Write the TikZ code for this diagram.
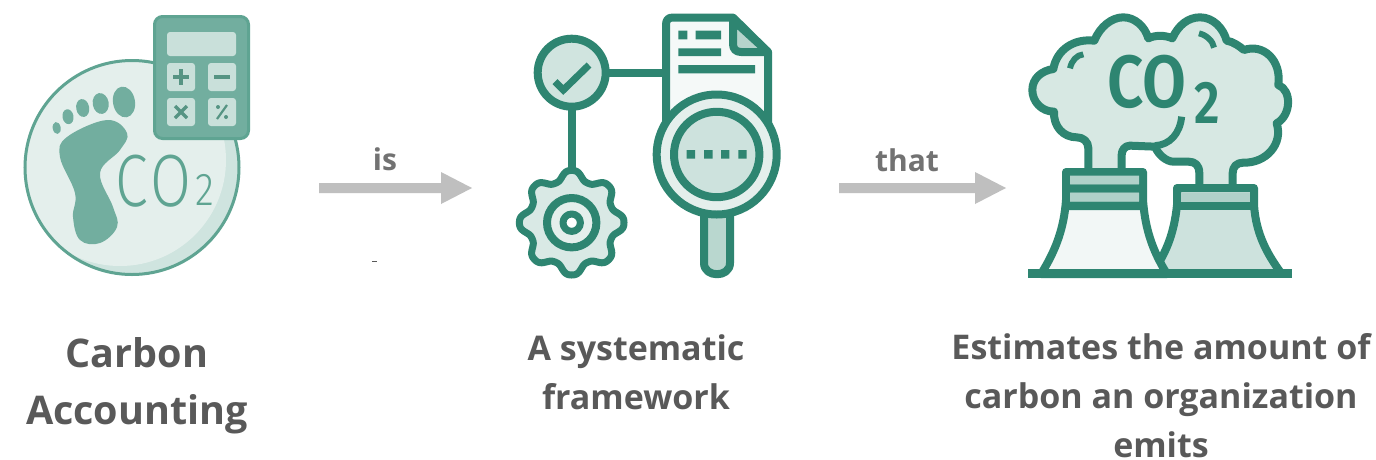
\documentclass[tikz,border=0pt]{standalone}
\usepackage{fontspec}
\setmainfont{Open Sans}[BoldFont={Open Sans Semibold}]
\newfontfamily\labelfont{Open Sans}
\newfontfamily\thinfont{Fira Sans Light}
\newfontfamily\co{Fira Sans SemiBold}
\definecolor{dk}{HTML}{2E8571}
\definecolor{md}{HTML}{5FA492}
\definecolor{calc}{HTML}{72AE9F}
\definecolor{pale}{HTML}{C9E0DA}
\definecolor{txtc}{HTML}{595959}
\definecolor{arw}{HTML}{BFBFBF}
\definecolor{cresc}{HTML}{CFE4DF}
\definecolor{lightdisc}{HTML}{E4EFEC}
\tikzset{
  x=1pt,y=-1pt,
  ink/.style={draw=dk,line width=8pt,line join=round},
  bar/.style={fill=dk,draw=none},
  key/.style={fill=pale,draw=none,rounded corners=3pt},
  keysym/.style={draw=md!90!black,line width=3.5pt},
  cap text/.style={font=\fontsize{39.5pt}{57pt}\selectfont\labelfont\bfseries,text=txtc,align=center,inner sep=0pt},
  cap text small/.style={font=\fontsize{34pt}{49pt}\selectfont\labelfont\bfseries,text=txtc,align=center,inner sep=0pt},
  arrow label/.style={font=\fontsize{30pt}{30pt}\selectfont\labelfont\bfseries,text=txtc!85,inner sep=0pt},
}
\begin{document}
\begin{tikzpicture}
\useasboundingbox (0,0) rectangle (1376,459);
\fill[fill=white] (0,0) rectangle (1376,459);
% ---------- footprint icon
\fill[fill=cresc] (132,167.5) circle[radius=108];
\begin{scope}
\clip (132,167.5) circle[radius=108];
\fill[fill=lightdisc] (120,160) circle[radius=106];
\end{scope}
\draw[draw=md,line width=3pt] (132,167.5) circle[radius=107];
\fill[fill=calc] plot[smooth cycle,tension=0.65] coordinates {(107,120) (127,133) (120,150) (100,173) (113,207) (117,227) (100,243) (80,240) (73,217) (75,193) (60,157) (67,137)};
\foreach \cx/\cy/\rx/\ry in {124/102/11/15.5,100.7/103.5/8/10.5,82.7/108/6.5/9,68/116.7/5.5/7.5,56.7/128/4/6}
  \fill[fill=calc,rotate around={10:(\cx,\cy)}] (\cx,\cy) ellipse[x radius=\rx,y radius=\ry];
\node[font=\fontsize{74pt}{74pt}\selectfont\thinfont,text=md,inner sep=0pt,xscale=0.8] (co1) at (153.5,181) {C\hspace{3pt}O};
\node[font=\fontsize{46pt}{46pt}\selectfont\thinfont,text=md,inner sep=0pt,xscale=0.85] (co1b) at (205,190) {2};
\draw[draw=md,fill=calc,line width=3pt,rounded corners=8pt] (154.5,16.5) rectangle (248.5,138.5);
\fill[key] (167,32) rectangle (236,56);
\fill[key] (167,63) rectangle (195,91);
\fill[key] (208,63) rectangle (236,91);
\fill[key] (167,98) rectangle (195,126);
\fill[key] (208,98) rectangle (236,126);
\draw[keysym] (173,77) -- (189,77) (181,69) -- (181,85);
\draw[keysym] (214,77) -- (230,77);
\draw[keysym] (175,106) -- (187,118) (187,106) -- (175,118);
\draw[draw=md!90!black,line width=2.2pt] (227,105) -- (217,119);
\fill[fill=md!90!black] (218,107) circle[radius=2] (226,117) circle[radius=2];
% ---------- arrows
\fill[fill=arw] (319,183) -- (441,183) -- (441,172) -- (472,188) -- (441,204) -- (441,193) -- (319,193) -- cycle;
\fill[fill=arw] (839,183) -- (975,183) -- (975,172) -- (1006,188) -- (975,204) -- (975,193) -- (839,193) -- cycle;
\node[arrow label] (lis) at (385,159) {is};
\node[arrow label] (lthat) at (907,160) {that};
\fill[fill=txtc] (372,261) rectangle (377,262);
% ---------- framework icon
\draw[ink] (571.7,72.7) -- (666,72.7);
\draw[ink] (571.7,72.7) -- (571.7,175);
\draw[ink,fill=white!70!pale!60!white] (666,125) -- (666,25) .. controls (666,20) and (668,17.5) .. (673,17.5) -- (733,17.5) -- (768,52) -- (768,125) -- cycle;
\draw[ink,fill=pale!75!dk!80!white] (733,20) -- (733,44) .. controls (733,49) and (736,52) .. (741,52) -- (768,52) -- cycle;
\fill[bar] (678.3,30.7) rectangle (687.3,39.3) (695.7,30.7) rectangle (721,39.3) (678.3,48.3) rectangle (721,56) (678.3,65) rectangle (755,73.3);
\draw[ink,fill=white!55!pale!50!dk!40!white] (571.7,72.7) circle[radius=34];
\draw[draw=dk,line width=7pt,line join=miter] (555,81.7) -- (563.3,90) -- (589,65);
\draw[ink,fill=pale!90!dk] (704,210) -- (704,263) .. controls (704,278) and (730,278) .. (730,263) -- (730,210) -- cycle;
\draw[ink,fill=pale!50!white] (716.7,154.5) circle[radius=60];
\draw[ink,fill=pale!92!white] (716.7,154.5) circle[radius=42.7];
\fill[bar] (686.7,150) rectangle (695,158.7) (704,150) rectangle (712.7,158.7) (721,150) rectangle (729.3,158.7) (738.3,150) rectangle (746.7,158.7);
\draw[ink,line width=7pt,fill=pale!70!white] plot[domain=0:360,samples=217,smooth] ({571.7+(47.5+4.8*(cos(8*\x)-0.08*cos(24*\x))/0.92)*sin(\x)},{222.7-(47.5+4.8*(cos(8*\x)-0.08*cos(24*\x))/0.92)*cos(\x)}) -- cycle;
\draw[ink,fill=pale!50!white] (571.7,222.7) circle[radius=24.7];
\draw[ink,line width=7pt,fill=white] (571.7,222.7) circle[radius=8.7];
% ---------- plant icon
\begin{scope}[shift={(1010,0)},x=0.3333pt,y=-0.3333pt]
\path[fill=pale!75!white] (235,510) -- (235,445) .. controls (235,425) and (220,412) .. (200,412)
 .. controls (160,412) and (130,380) .. (132,335)
 .. controls (95,335) and (67,305) .. (67,270)
 .. controls (67,235) and (95,212) .. (130,207)
 .. controls (140,150) and (190,115) .. (253,122)
 .. controls (270,80) and (305,52) .. (340,52)
 .. controls (375,52) and (405,80) .. (415,115)
 .. controls (435,105) and (465,105) .. (487,115)
 .. controls (505,75) and (535,52) .. (570,52)
 .. controls (610,52) and (640,85) .. (650,122)
 .. controls (670,125) and (690,140) .. (702,150)
 .. controls (760,130) and (815,180) .. (805,255)
 .. controls (845,270) and (845,345) .. (800,370)
 .. controls (820,430) and (770,490) .. (700,488)
 .. controls (680,488) and (668,500) .. (668,520)
 -- (668,560) -- (568,560) -- (568,520) .. controls (568,495) and (555,485) .. (535,485) -- (490,485)
 .. controls (470,485) and (445,465) .. (435,440) -- (360,437) .. controls (345,437) and (335,450) .. (335,465) -- (335,510) -- cycle;
\draw[draw=dk,line width=8pt,line join=round] (235,510) -- (235,445) .. controls (235,425) and (220,412) .. (200,412)
 .. controls (160,412) and (130,380) .. (132,335)
 .. controls (95,335) and (67,305) .. (67,270)
 .. controls (67,235) and (95,212) .. (130,207)
 .. controls (140,150) and (190,115) .. (253,122)
 .. controls (270,80) and (305,52) .. (340,52)
 .. controls (375,52) and (405,80) .. (415,115)
 .. controls (435,105) and (465,105) .. (487,115)
 .. controls (505,75) and (535,52) .. (570,52)
 .. controls (610,52) and (640,85) .. (650,122)
 .. controls (670,125) and (690,140) .. (702,150)
 .. controls (760,130) and (815,180) .. (805,255)
 .. controls (845,270) and (845,345) .. (800,370)
 .. controls (820,430) and (770,490) .. (700,488)
 .. controls (680,488) and (668,500) .. (668,520)
 -- (668,560) (568,560) -- (568,520) .. controls (568,495) and (555,485) .. (535,485) -- (490,485)
 .. controls (470,485) and (445,465) .. (435,440) -- (360,437) .. controls (345,437) and (335,450) .. (335,465) -- (335,510);
\draw[draw=dk,line width=7pt] (515,350) .. controls (510,400) and (480,435) .. (435,437);
\draw[draw=dk,line width=6pt] (180,205) .. controls (185,182) and (200,165) .. (220,163);
\draw[draw=dk,line width=6pt] (567,100) .. controls (590,105) and (610,125) .. (612,143);
\node[font=\fontsize{74pt}{74pt}\selectfont\co,text=dk,inner sep=0pt,xscale=0.86] (co2) at (412,246) {CO};
\node[font=\fontsize{60pt}{60pt}\selectfont\co,text=dk,inner sep=0pt,xscale=0.83] (co2b) at (592,310) {2};
\end{scope}
% right tower
\draw[ink,fill=pale!70!dk!50!white] (1177,188) -- (1254,188) -- (1254,205) .. controls (1256,235) and (1268,255) .. (1281,273) -- (1152,273) .. controls (1165,255) and (1174,235) .. (1177,205) -- cycle;
\fill[fill=pale!75!dk!85!white] (1181,192.7) rectangle (1250,201.7);
\fill[bar] (1177,201.7) rectangle (1254,210);
% left tower
\draw[ink,fill=white!75!pale] (1066,172) -- (1143,172) -- (1143,200) .. controls (1145,228) and (1152,250) .. (1167,274) -- (1041,274) .. controls (1056,250) and (1064,228) .. (1066,200) -- cycle;
\fill[fill=pale!75!dk!85!white] (1070,175.7) rectangle (1139,184.3) (1070,192.7) rectangle (1139,201.7);
\fill[bar] (1066,184.3) rectangle (1143,192.7) (1066,201.7) rectangle (1143,210);
\fill[bar] (1028,269.3) rectangle (1291.7,278);
% ---------- captions
\node[cap text] (c1) at (137,385.5) {Carbon\\Accounting};
\node[cap text small] (c2) at (636,372) {A systematic\\framework};
\node[cap text small] (c3) at (1161,396) {Estimates the amount of\\carbon an organization\\emits};
\end{tikzpicture}
\end{document}
